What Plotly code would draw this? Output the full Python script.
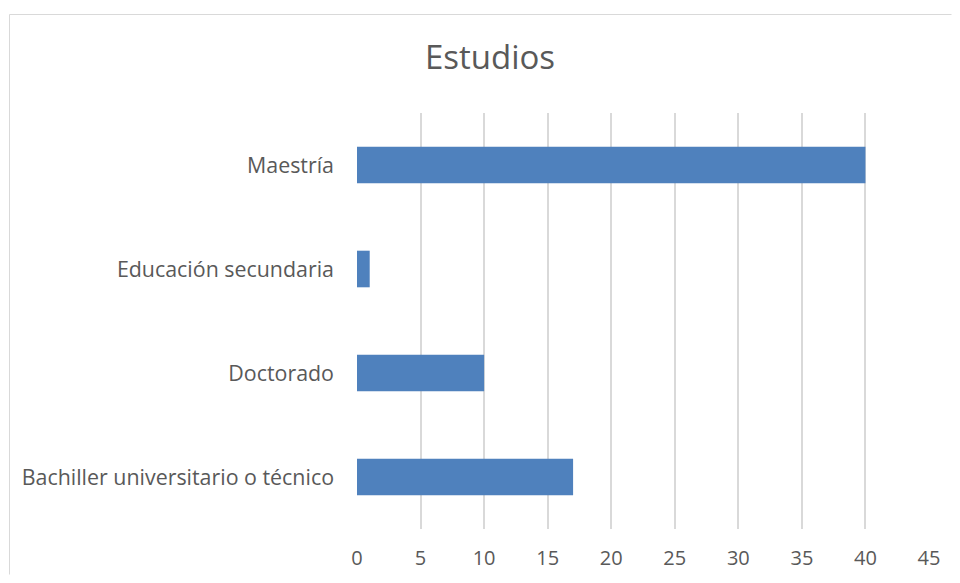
import plotly.graph_objects as go

categories = ["Bachiller universitario o técnico", "Doctorado", "Educación secundaria", "Maestría"]
values = [17, 10, 1, 40]
x_ticks = [0, 5, 10, 15, 20, 25, 30, 35, 40, 45]
title_text = "Estudios"

# page is rendered with an 8px body margin; work in page pixel coords, then subtract offset
OFF = 8
W, H = 944, 567
L, R, T, B = 357 - OFF, 929 - OFF, 113 - OFF, 529 - OFF

def px_to_paper_x(px):
    return (px - OFF - L) / (R - L)

def px_to_paper_y(py):
    return (B - (py - OFF)) / (B - T)

fig = go.Figure(go.Bar(
    x=values, y=categories, orientation="h",
    marker=dict(color="#4f81bd", line=dict(width=0)),
    width=0.352,
))

frame_line = dict(color="#d9d9d9", width=1)
fig.update_layout(
    width=W, height=H,
    margin=dict(l=L, r=W - R, t=T, b=H - B, autoexpand=False),
    paper_bgcolor="white", plot_bgcolor="white",
    font=dict(family="Open Sans", color="#595959", size=21),
    showlegend=False,
    title=dict(text=title_text, x=(490 - OFF) / W, xanchor="center", y=1 - (57 - OFF) / H, yanchor="middle",
               font=dict(size=33, color="#595959", family="Open Sans")),
    xaxis=dict(range=[0, 45], tickvals=x_ticks, showgrid=True, gridcolor="#d9d9d9", gridwidth=1.5,
               zeroline=False, showline=False, ticks="", ticklabelstandoff=15,
               tickfont=dict(size=20, color="#595959")),
    yaxis=dict(range=[-0.5, 3.5], showgrid=False, zeroline=False, showline=False, ticks="",
               ticklabelstandoff=22, tickfont=dict(size=21.4, color="#595959")),
    shapes=[
        dict(type="line", xref="paper", yref="paper",
             x0=px_to_paper_x(9.5), x1=px_to_paper_x(9.5),
             y0=px_to_paper_y(574.5), y1=px_to_paper_y(14.5), line=frame_line, layer="below"),
        dict(type="line", xref="paper", yref="paper",
             x0=px_to_paper_x(9.5), x1=px_to_paper_x(951.5),
             y0=px_to_paper_y(14.5), y1=px_to_paper_y(14.5), line=frame_line, layer="below"),
    ],
)

fig.write_html("out.html")
